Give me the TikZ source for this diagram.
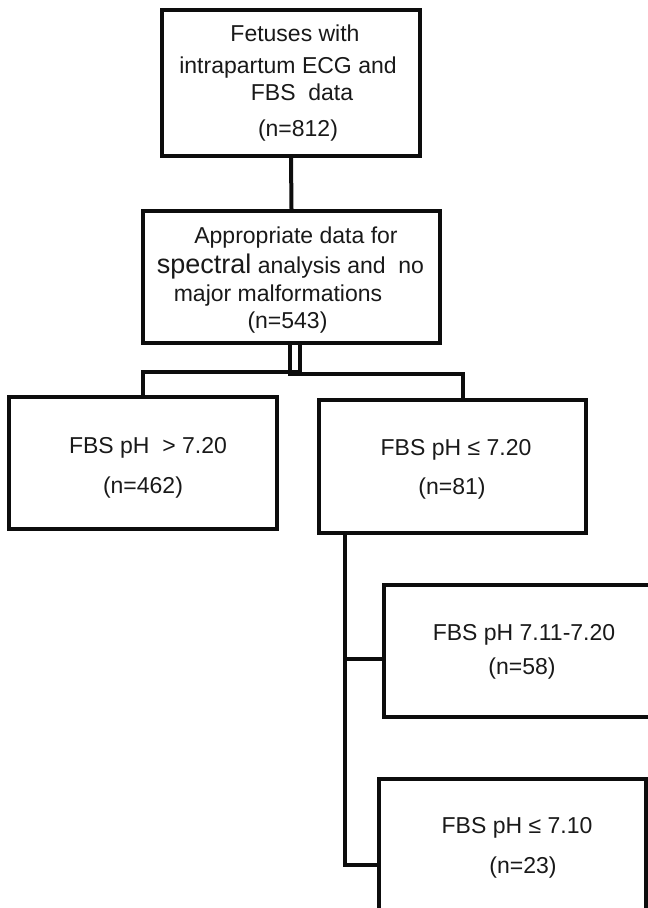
\documentclass[tikz,border=0pt]{standalone}
\usepackage{fontspec}
\setmainfont{Liberation Sans}
\begin{document}
\begin{tikzpicture}[x=1pt,y=-1pt,
  box/.style={draw=black!95, line width=4pt, rectangle, inner sep=0pt, fill=none},
  lbl/.style={inner sep=0pt, text height=16.5pt, text depth=0pt, anchor=center, text=black!90,
    font=\fontsize{23}{27}\selectfont},
  conn/.style={draw=black!95, line width=4pt}]
\useasboundingbox (0,0) rectangle (648,908);
\clip (0,0) rectangle (648,908);
% boxes
\node[box, minimum width=258pt, minimum height=146pt] (b1) at (291,83) {};
\node[box, minimum width=297pt, minimum height=132pt] (b2) at (291.5,277) {};
\node[box, minimum width=268pt, minimum height=132pt] (b3) at (143,463) {};
\node[box, minimum width=267pt, minimum height=133pt] (b4) at (452.5,466.5) {};
\node[box, minimum width=296pt, minimum height=132pt] (b5) at (532,651) {};
\node[box, minimum width=267pt, minimum height=181pt] (b6) at (512.5,869.5) {};
% texts
\node[lbl] (t1a) at (295,33) {Fetuses with};
\node[lbl] (t1b) at (288,65) {intrapartum ECG and};
\node[lbl] (t1c) at (302,92) {FBS\ \ data};
\node[lbl] (t1d) at (298,128) {(n=812)};
\node[lbl] (t2a) at (296,235) {Appropriate data for};
\node[lbl] (t2b) at (290.5,265) {{\fontsize{27}{30}\selectfont spectral} analysis and\ \ no};
\node[lbl] (t2c) at (278,293) {major malformations};
\node[lbl] (t2d) at (287.5,320) {(n=543)};
\node[lbl] (t3a) at (148,445) {FBS pH\ \ > 7.20};
\node[lbl] (t3b) at (143,485) {(n=462)};
\node[lbl] (t4a) at (456,447) {FBS pH ≤ 7.20};
\node[lbl] (t4b) at (452,486) {(n=81)};
\node[lbl] (t5a) at (524,632) {FBS pH 7.11-7.20};
\node[lbl] (t5b) at (522,666) {(n=58)};
\node[lbl] (t6a) at (517,825) {FBS pH ≤ 7.10};
\node[lbl] (t6b) at (523,865) {(n=23)};
% connectors
\draw[conn] (b1.south) -- (b2.north);
\coordinate (j1) at (290,372);
\coordinate (j2) at (300,374);
\coordinate (c4) at (463,0);
\draw[conn] (b2.south -| j2) -- (j2 |- j1) -- (b3.north |- j1) -- (b3.north);
\draw[conn] (b2.south -| j1) -- (j1 |- j2) -- (c4 |- j2) -- (c4 |- b4.north);
\coordinate (v) at (345,0);
\coordinate (k5) at (0,659);
\coordinate (k6) at (0,865);
\draw[conn] (b4.south -| v) -- (v |- k6) -- (b6.west |- k6);
\draw[conn] (v |- k5) -- (b5.west |- k5);
\end{tikzpicture}
\end{document}
